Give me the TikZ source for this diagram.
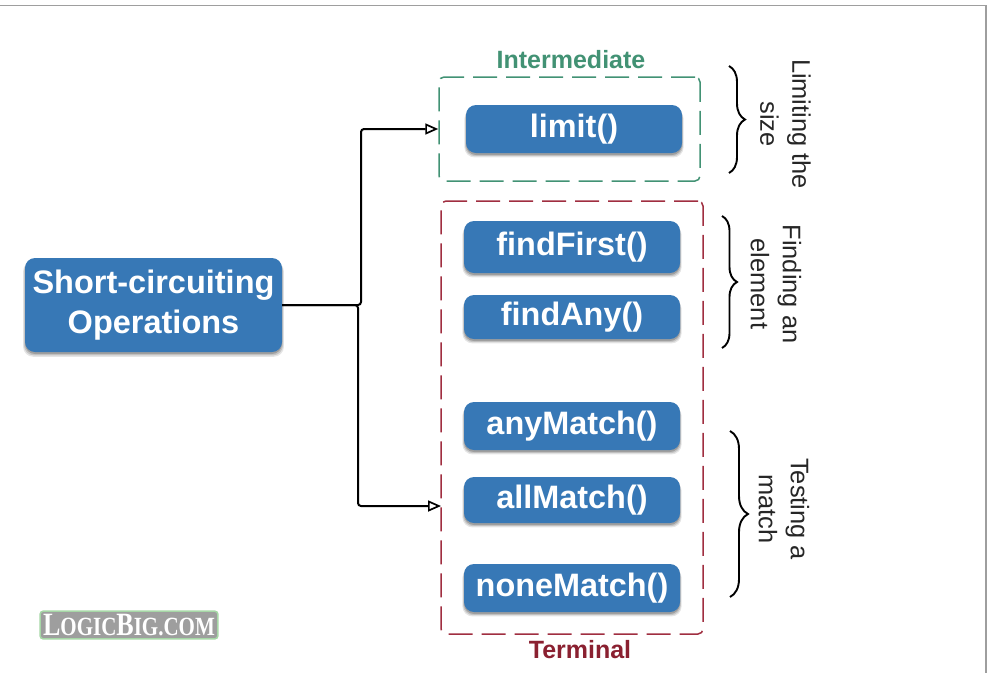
\documentclass[tikz,border=0pt]{standalone}
\usepackage{fontspec}
\setmainfont{Liberation Sans}
\newfontfamily\logofont{Liberation Serif}
\usetikzlibrary{shadows,arrows.meta,decorations.pathreplacing}
\definecolor{boxblue}{HTML}{3778B6}
\definecolor{interg}{HTML}{429274}
\definecolor{termr}{HTML}{A02E40}
\definecolor{termtxt}{HTML}{8A2030}
\tikzset{
  x=1pt,y=-1pt,
  opbox/.style={draw=none,fill=boxblue,rounded corners=10pt,text=white,inner sep=0pt,
    font=\fontsize{32.4}{39}\selectfont\bfseries,align=center,
    general shadow={shadow xshift=0pt,shadow yshift=-4pt,shadow scale=1.015,opacity=.10,fill=black},
    general shadow={shadow xshift=0pt,shadow yshift=-3pt,shadow scale=1.008,opacity=.14,fill=black},
    general shadow={shadow xshift=0pt,shadow yshift=-2pt,opacity=.20,fill=black}},
  frame/.style={draw=#1,line width=1.5pt,rounded corners=5pt,dash pattern=on 24pt off 9pt,inner sep=0pt},
  framelabel/.style={font=\fontsize{25}{29}\selectfont\bfseries,text=#1},
  link/.style={draw=black,line width=2pt,rounded corners=3pt,-{Triangle[open,length=13pt,width=11pt,line width=1.7pt]}},
  curly/.style={draw=black,line width=1.9pt,decorate,decoration={brace,amplitude=#1}},
  note/.style={font=\fontsize{25.4}{32}\selectfont,rotate=-90,align=center,text=black!85},
}
\begin{document}
\begin{tikzpicture}
\useasboundingbox (0,0) rectangle (1003,673);
\draw[draw=black!38,line width=1.3pt] (0,5.5) -- (986,5.5) -- (986,673);
% frames
\node[frame=interg,minimum width=261pt,minimum height=104pt] (inter) at (569.5,129) {};
\node[frame=termr,minimum width=262pt,minimum height=433pt] (term) at (572,417.5) {};
\node[framelabel=interg] (interlabel) at (571,60) {Intermediate};
\node[framelabel=termtxt] (termlabel) at (580,650) {Terminal};
% operation boxes
\node[opbox,minimum width=257pt,minimum height=94pt,font=\fontsize{32.5}{39}\selectfont\bfseries] (main) at (153.5,305) {\raisebox{3pt}{Short-circuiting}\\\raisebox{2pt}{Operations}};
\node[opbox,minimum width=216pt,minimum height=48pt] (limit) at (574,129) {\raisebox{3pt}{limit()}};
\node[opbox,minimum width=216pt,minimum height=52pt] (first) at (572,247) {\raisebox{3pt}{findFirst()}};
\node[opbox,minimum width=216pt,minimum height=44pt] (any) at (572,317) {\raisebox{1pt}{findAny()}};
\node[opbox,minimum width=216pt,minimum height=48pt] (anym) at (572,426) {\raisebox{3pt}{anyMatch()}};
\node[opbox,minimum width=216pt,minimum height=46pt] (allm) at (572,500) {\raisebox{2pt}{allMatch()}};
\node[opbox,minimum width=216pt,minimum height=48pt] (nonem) at (572,588) {\raisebox{2pt}{noneMatch()}};
% connectors
\coordinate (terminlet) at (441,506);
\coordinate (splitup) at (361,305);
\coordinate (splitdown) at (358,305);
\draw[link] (main.east) -- (splitup) -- (splitup |- inter.west) -- (inter.west);
\draw[link] (main.east) -- (splitdown) -- (splitdown |- terminlet) -- (terminlet);
% braces
\draw[curly=16pt] (729,66) -- (729,173);
\draw[curly=15pt] (722,216) -- (722,348);
\draw[curly=18pt] (730,431) -- (730,597);
% notes
\node[note] (n1) at (785.5,124) {Limiting the\\size};
\node[note] (n2) at (776,284) {Finding an\\element};
\node[note] (n3) at (784,509) {Testing a\\match};
% logo
\node[fill=black!38,draw=green!55!black!35,line width=1.5pt,rounded corners=3pt,inner xsep=3pt,inner ysep=3pt,text=white,font=\logofont\bfseries\fontsize{26}{26}\selectfont] (logo) at (129,625) {\scalebox{1}[1.25]{L{\fontsize{21}{26}\selectfont OGIC}B{\fontsize{21}{26}\selectfont IG.COM}}};
\end{tikzpicture}
\end{document}
